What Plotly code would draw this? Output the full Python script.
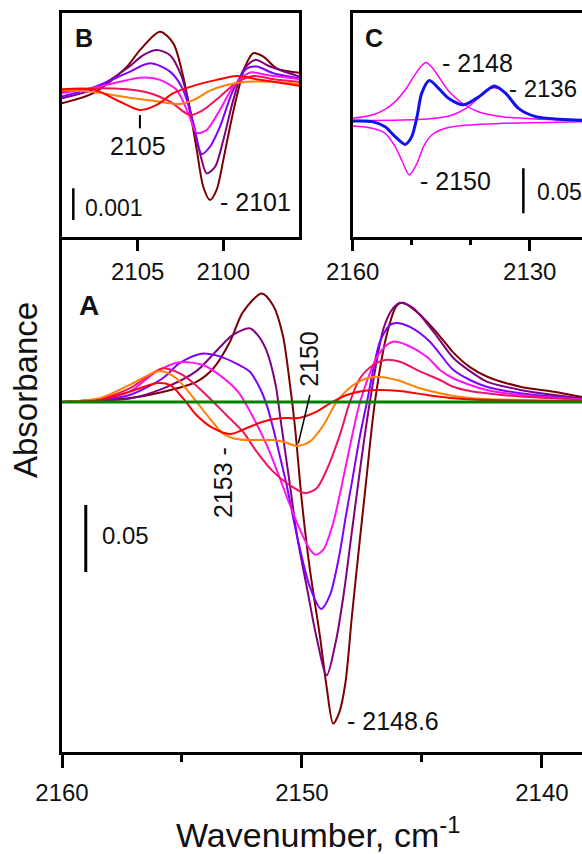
import plotly.graph_objects as go

# ---------------- Panel A data (wavenumber cm-1, absorbance) ----------------
A_RED_WN = [2160, 2158.4, 2157.18, 2156.07, 2155.5, 2154.96, 2154.4, 2153.7, 2153.0, 2152.32, 2151.63, 2150.92,
            2150.08, 2149.39, 2148.83, 2148.14, 2147.45, 2146.9, 2145.92, 2144.8, 2143.7, 2142.3, 2138.33]
A_RED = [0, 0.0015, 0.0077, 0.014, 0.0127, 0.0028, -0.0097, -0.0196, -0.0239, -0.0196, -0.0147, -0.0122,
         -0.0117, -0.0072, -0.001, 0.0052, 0.0082, 0.009, 0.0082, 0.0052, 0.0028, 0.0015, 0.0007]

A_ORANGE_WN = [2160, 2158.4, 2157.18, 2155.93, 2155.24, 2154.4, 2153.85, 2153.3, 2152.74, 2152.04, 2151.2, 2150.7,
               2150.22, 2149.67, 2149.1, 2148.55, 2147.86, 2147.3, 2146.9, 2146.05, 2145.08, 2144.25, 2143.7,
               2142.3, 2140.9, 2138.33]
A_ORANGE = [0, 0.003, 0.0127, 0.0231, 0.0177, 0.0002, -0.0122, -0.0234, -0.0276, -0.0284, -0.0284, -0.030,
            -0.0328, -0.0296, -0.0172, 0.0002, 0.0127, 0.0177, 0.0189, 0.0164, 0.0102, 0.0065, 0.0045,
            0.0022, 0.0015, 0.0007]

A_ROSE_WN = [2160, 2158.4, 2157.18, 2155.8, 2154.96, 2154.13, 2153.15, 2152.46, 2151.89, 2151.2, 2150.6, 2149.88,
             2149.39, 2148.97, 2148.42, 2148.0, 2147.58, 2147.03, 2146.54, 2145.92, 2145.08, 2144.25, 2143.7,
             2143.0, 2142.3, 2140.9, 2139.5, 2138.33]
A_ROSE = [0, 0.0025, 0.0102, 0.0251, 0.020, 0.0077, -0.0097, -0.0222, -0.037, -0.052, -0.061, -0.068,
          -0.0644, -0.0507, -0.0246, 0.0002, 0.0177, 0.0276, 0.0313, 0.030, 0.0228, 0.0164, 0.0114,
          0.0082, 0.0065, 0.004, 0.0028, 0.0015]

A_MAGENTA_WN = [2160, 2158.4, 2157.18, 2156.07, 2155.1, 2154.13, 2153.43, 2152.67, 2152.13, 2151.47, 2150.92,
                2150.5, 2150.08, 2149.67, 2149.42, 2149.1, 2148.7, 2148.35, 2148.0, 2147.58, 2146.9, 2146.47,
                2146.2, 2145.64, 2144.8, 2144.25, 2143.7, 2143.0, 2142.3, 2140.9, 2139.5, 2138.33]
A_MAGENTA = [0, 0.0022, 0.0077, 0.0226, 0.0296, 0.0276, 0.020, 0.0077, -0.0082, -0.032, -0.057,
             -0.077, -0.0955, -0.110, -0.114, -0.110, -0.0905, -0.063, -0.033, 0, 0.0326, 0.0425,
             0.045, 0.0425, 0.0338, 0.0239, 0.0177, 0.0127, 0.009, 0.0052, 0.0032, 0.0019]

A_VIOLET_WN = [2160, 2158.4, 2157.18, 2155.8, 2155.1, 2154.2, 2153.43, 2152.67, 2152.17, 2151.75, 2151.47, 2151.2,
               2150.9, 2150.64, 2150.2, 2149.67, 2149.2, 2148.83, 2148.46, 2148.17, 2147.92, 2147.6, 2147.29,
               2146.75, 2146.33, 2146.05, 2145.5, 2144.67, 2143.7, 2143.0, 2142.3, 2140.9, 2139.5, 2138.33]
A_VIOLET = [0, 0.0015, 0.0052, 0.0177, 0.029, 0.036, 0.034, 0.028, 0.0226, 0.0102, -0.0022, -0.0196,
            -0.042, -0.062, -0.1005, -0.138, -0.1545, -0.144, -0.116, -0.085, -0.060, -0.027, 0,
            0.045, 0.0575, 0.059, 0.056, 0.045, 0.024, 0.0164, 0.0114, 0.0065, 0.004, 0.0022]

A_PURPLE_WN = [2160, 2158.4, 2157.17, 2155.8, 2154.4, 2153.57, 2152.88, 2152.18, 2151.85, 2151.47, 2151.1, 2150.9,
               2150.7, 2150.5, 2150.2, 2149.8, 2149.4, 2148.97, 2148.58, 2148.25, 2147.93, 2147.65, 2147.4,
               2147.17, 2146.6, 2146.2, 2145.9, 2145.36, 2144.5, 2143.7, 2143.0, 2142.3, 2140.9, 2139.5, 2138.33]
A_PURPLE = [0, 0.001, 0.0026, 0.010, 0.023, 0.038, 0.050, 0.055, 0.050, 0.038, 0.013, -0.012,
            -0.037, -0.062, -0.1005, -0.138, -0.175, -0.204, -0.178, -0.142, -0.098, -0.060, -0.027,
            0, 0.055, 0.070, 0.074, 0.070, 0.052, 0.033, 0.023, 0.0152, 0.009, 0.0052, 0.0028]

A_MAROON_WN = [2160, 2157.17, 2155.8, 2154.4, 2153.7, 2153.0, 2152.46, 2151.68, 2151.2, 2150.8, 2150.5, 2150.3,
               2150.0, 2149.67, 2149.25, 2148.97, 2148.7, 2148.45, 2148.19, 2147.92, 2147.63, 2147.33, 2146.96,
               2146.47, 2146.05, 2145.78, 2145.08, 2144.25, 2143.7, 2143.0, 2142.3, 2140.9, 2139.5, 2138.33]
A_MAROON = [0, 0.003, 0.0075, 0.015, 0.025, 0.045, 0.067, 0.081, 0.072, 0.050, 0.013, -0.017,
            -0.075, -0.125, -0.175, -0.213, -0.240, -0.232, -0.2097, -0.160, -0.110, -0.060, 0,
            0.050, 0.072, 0.074, 0.065, 0.049, 0.037, 0.026, 0.019, 0.0114, 0.0077, 0.0037]

A_GREEN_WN = [2160, 2138.33]
A_GREEN = [0, 0]

# ---------------- Panel B data ----------------
B_MAROON_WN = [2109.45, 2107.59, 2105.64, 2104.87, 2103.7, 2102.92, 2102.34, 2101.95, 2101.55, 2101.17, 2100.78,
               2100.39, 2100.0, 2099.61, 2099.22, 2098.73, 2098.25, 2097.66, 2096.88, 2095.55]
B_MAROON = [-0.00042, -0.0001, 0.00073, 0.00126, 0.00184, 0.00147, 0.00042, -0.00063, -0.00189, -0.00305, -0.00347,
            -0.00315, -0.00221, -0.00116, -0.00021, 0.00074, 0.00116, 0.00105, 0.00068, 0.00054]

B_PURPLE_WN = [2109.45, 2107.59, 2105.64, 2104.67, 2103.89, 2103.11, 2102.43, 2101.85, 2101.36, 2100.97, 2100.48,
               2100.0, 2099.42, 2098.83, 2098.15, 2097.27, 2095.55]
B_PURPLE = [-0.00026, 0.00002, 0.00068, 0.0011, 0.00126, 0.0011, 0.00042, -0.00084, -0.002, -0.00263, -0.00242,
            -0.00158, -0.00032, 0.00063, 0.00095, 0.00074, 0.00042]

B_VIOLET_WN = [2109.45, 2107.59, 2105.64, 2104.28, 2103.11, 2102.34, 2101.75, 2101.26, 2100.78, 2100.2, 2099.42,
               2098.63, 2098.05, 2097.08, 2095.55]
B_VIOLET = [-0.00021, 0.00008, 0.00053, 0.00084, 0.00058, 0, -0.00105, -0.00202, -0.00179, -0.00116, 0,
            0.00068, 0.00074, 0.00053, 0.00037]

B_MAGENTA_WN = [2109.45, 2107.59, 2106.03, 2104.87, 2103.7, 2102.72, 2102.04, 2101.55, 2100.97, 2100.2, 2099.42,
                2098.44, 2097.46, 2095.55]
B_MAGENTA = [-0.0001, 0.00007, 0.00026, 0.00039, 0.00032, 0, -0.00074, -0.00135, -0.00126, -0.00063, 0.0001,
             0.00055, 0.00047, 0.00034]

B_ROSE_WN = [2109.45, 2107.59, 2105.64, 2104.28, 2103.11, 2101.95, 2101.17, 2100.2, 2099.22, 2098.25, 2097.08,
             2095.55]
B_ROSE = [-0.00005, 0.00005, 0.00002, -0.0001, -0.00037, -0.00079, -0.00063, -0.00021, 0.00023, 0.00044, 0.00034,
          0.00026]

B_ORANGE_WN = [2109.45, 2107.59, 2105.64, 2104.09, 2102.53, 2101.75, 2100.78, 2099.8, 2098.63, 2097.08, 2095.55]
B_ORANGE = [0, -0.00006, -0.00023, -0.00034, -0.00044, -0.00032, -0.00002, 0.00016, 0.00026, 0.00026, 0.00019]

B_RED_WN = [2109.45, 2107.59, 2106.03, 2104.87, 2103.89, 2102.92, 2101.75, 2100.39, 2099.22, 2097.86, 2095.55]
B_RED = [0.00002, 0.00002, -0.00037, -0.00063, -0.00047, -0.0001, 0.00013, 0.00032, 0.00044, 0.00032, 0.00013]

# ---------------- Panel C data ----------------
C_2148_WN = [2160, 2156.7, 2154.5, 2152.8, 2151.1, 2149.7, 2148.5, 2147.6, 2146.6, 2145.1, 2143.7, 2141.5, 2138.6,
             2134.7, 2129.0, 2121.1]
C_2148 = [0.0030, 0.0067, 0.013, 0.0215, 0.0344, 0.049, 0.060, 0.065, 0.060, 0.046, 0.033, 0.020, 0.010,
          0.0048, 0.0022, 0.0011]

C_2150_WN = [2160, 2156.7, 2154.5, 2152.8, 2151.6, 2150.4, 2149.1, 2148.0, 2146.6, 2144.3, 2140.3, 2134.7, 2121.1]
C_2150 = [-0.0056, -0.0081, -0.0137, -0.0285, -0.045, -0.060, -0.047, -0.0285, -0.0156, -0.0081, -0.0044,
          -0.0026, -0.0007]

C_2136_WN = [2160, 2151.6, 2146.0, 2143.1, 2140.8, 2139.1, 2137.4, 2136.0, 2134.7, 2132.9, 2131.2, 2129.0, 2125.0,
             2121.1]
C_2136 = [0.0005, 0.001, 0.003, 0.0067, 0.014, 0.023, 0.034, 0.037, 0.034, 0.0215, 0.0104, 0.0048, 0.0022, 0.0011]

C_FIT_WN = [2160, 2156.7, 2154.5, 2152.8, 2151.1, 2150.0, 2149.1, 2148.3, 2147.0, 2145.4, 2143.7, 2141.2, 2138.6,
            2136.0, 2134.1, 2131.9, 2129.0, 2125.0, 2121.1]
C_FIT = [0, -0.0007, -0.0063, -0.0174, -0.026, -0.0174, 0.0048, 0.031, 0.045, 0.036, 0.025, 0.018, 0.027,
         0.039, 0.031, 0.014, 0.0048, 0.0019, 0.0007]

# Tick labels
A_TICKS = [2160, 2150, 2140]
A_MINOR = [2155, 2145]
B_TICKS = [2105, 2100]
C_TICKS = [2160, 2130]
C_MINOR = [2150, 2140]

# Scale bars (absorbance)
SCALE_A = 0.05
SCALE_B = 0.001
SCALE_C = 0.05

RED = "#FF0000"
ORANGE = "#FF8000"
ROSE = "#F0145A"
MAGENTA = "#FF14F0"
VIOLET = "#8000FF"
PURPLE = "#800080"
MAROON = "#7B0000"
GREEN = "#008000"
BLUE = "#1010F0"
FONT = "Liberation Sans, Arial, sans-serif"

W, H = 582, 854


def px(xp):
    return xp / W


def py(yp):
    return 1 - yp / H


fig = go.Figure()

a_series = [
    (A_MAROON_WN, A_MAROON, MAROON),
    (A_PURPLE_WN, A_PURPLE, PURPLE),
    (A_VIOLET_WN, A_VIOLET, VIOLET),
    (A_MAGENTA_WN, A_MAGENTA, MAGENTA),
    (A_ROSE_WN, A_ROSE, ROSE),
    (A_ORANGE_WN, A_ORANGE, ORANGE),
    (A_RED_WN, A_RED, RED),
]
for xs, ys, c in a_series:
    fig.add_trace(go.Scatter(x=xs, y=ys, mode="lines", line=dict(color=c, width=2, shape="spline", smoothing=0.8),
                             xaxis="x", yaxis="y", hoverinfo="skip"))
fig.add_trace(go.Scatter(x=A_GREEN_WN, y=A_GREEN, mode="lines", line=dict(color=GREEN, width=3),
                         xaxis="x", yaxis="y", hoverinfo="skip"))

b_series = [
    (B_MAROON_WN, B_MAROON, MAROON),
    (B_PURPLE_WN, B_PURPLE, PURPLE),
    (B_VIOLET_WN, B_VIOLET, VIOLET),
    (B_MAGENTA_WN, B_MAGENTA, MAGENTA),
    (B_ROSE_WN, B_ROSE, ROSE),
    (B_ORANGE_WN, B_ORANGE, ORANGE),
    (B_RED_WN, B_RED, RED),
]
for xs, ys, c in b_series:
    fig.add_trace(go.Scatter(x=xs, y=ys, mode="lines", line=dict(color=c, width=2, shape="spline", smoothing=0.8),
                             xaxis="x2", yaxis="y2", hoverinfo="skip"))

for xs, ys in [(C_2148_WN, C_2148), (C_2150_WN, C_2150), (C_2136_WN, C_2136)]:
    fig.add_trace(go.Scatter(x=xs, y=ys, mode="lines", line=dict(color="#FF00FF", width=1.5, shape="spline",
                                                                 smoothing=0.8),
                             xaxis="x3", yaxis="y3", hoverinfo="skip"))
fig.add_trace(go.Scatter(x=C_FIT_WN, y=C_FIT, mode="lines", line=dict(color=BLUE, width=3, shape="spline",
                                                                      smoothing=0.8),
                         xaxis="x3", yaxis="y3", hoverinfo="skip"))

axis_common = dict(showgrid=False, zeroline=False, showline=True, linecolor="black", linewidth=2.5,
                   automargin=False,
                   tickcolor="black", tickwidth=2.5, tickfont=dict(family=FONT, size=24, color="#111"))

Y_AB_BOT, Y_AB_TOP = py(752), py(237)
Y_BC_BOT, Y_BC_TOP = py(237), py(13)

fig.update_layout(
    width=W, height=H, margin=dict(l=0, r=0, t=0, b=0, autoexpand=False),
    paper_bgcolor="white", plot_bgcolor="white", showlegend=False,
    xaxis=dict(domain=[px(62), 1], range=[2160, 2138.33], anchor="y", ticks="outside", ticklen=13,
               tickvals=A_TICKS, ticktext=[str(v) for v in A_TICKS], ticklabelstandoff=4,
               minor=dict(tickvals=A_MINOR, ticks="outside", ticklen=7, tickwidth=2.5, tickcolor="black"),
               **axis_common),
    yaxis=dict(domain=[Y_AB_BOT, Y_AB_TOP], range=[-0.2612, 0.1231], anchor="x", ticks="",
               showticklabels=False, **axis_common),
    xaxis2=dict(domain=[px(62), px(299)], range=[2109.42, 2095.58], anchor="y2", ticks="outside", ticklen=11,
                tickvals=B_TICKS, ticktext=[str(v) for v in B_TICKS], mirror=True, **axis_common),
    yaxis2=dict(domain=[Y_BC_BOT, Y_BC_TOP], range=[-0.004637, 0.002429], anchor="x2", ticks="",
                showticklabels=False, mirror=True, **axis_common),
    xaxis3=dict(domain=[px(352.7), 1], range=[2160, 2121.14], anchor="y3", ticks="outside", ticklen=11,
                tickvals=C_TICKS, ticktext=[str(v) for v in C_TICKS], mirror=True,
                minor=dict(tickvals=C_MINOR, ticks="outside", ticklen=5, tickwidth=2.5, tickcolor="black"),
                **axis_common),
    yaxis3=dict(domain=[Y_BC_BOT, Y_BC_TOP], range=[-0.1289, 0.12], anchor="x3", ticks="",
                showticklabels=False, **axis_common),
)

shapes = [
    # scale bars
    dict(type="line", xref="x", yref="y", x0=2159.01, x1=2159.01, y0=-0.0769, y1=-0.0769 - SCALE_A,
         line=dict(color="black", width=3)),
    dict(type="line", xref="x2", yref="y2", x0=2108.76, x1=2108.76, y0=-0.0031, y1=-0.0031 - SCALE_B,
         line=dict(color="black", width=2.5)),
    dict(type="line", xref="x3", yref="y3", x0=2131.08, x1=2131.08, y0=-0.0526, y1=-0.0526 - SCALE_C,
         line=dict(color="black", width=2.5)),
    # leader for 2150 label
    dict(type="line", xref="x", yref="y", x0=2149.67, x1=2150.15, y0=0.0052, y1=-0.0309,
         line=dict(color="black", width=1.5)),
    # 2105 marker
    dict(type="line", xref="x2", yref="y2", x0=2104.87, x1=2104.87, y0=-0.00079, y1=-0.00121,
         line=dict(color="black", width=2)),
]
fig.update_layout(shapes=shapes)


def ann(text, x, y, xref, yref, size=25, xanchor="center", bold=False, angle=0):
    if bold:
        text = "<b>" + text + "</b>"
    return dict(text=text, x=x, y=y, xref=xref, yref=yref, showarrow=False, xanchor=xanchor, yanchor="middle",
                textangle=angle, font=dict(family=FONT, size=size, color="#111"))


annotations = [
    ann("A", 2158.88, 0.0718, "x", "y", size=28, bold=True),
    ann("0.05", 2158.42, -0.0993, "x", "y", size=24, xanchor="left"),
    ann("- 2148.6", 2148.21, -0.238, "x", "y", xanchor="left"),
    ann("2150", 2149.71, 0.0321, "x", "y", angle=-90),
    ann("2153 -", 2153.31, -0.0601, "x", "y", angle=-90),
    ann("B", 2108.13, 0.00163, "x2", "y2", size=25, bold=True),
    ann("2105", 2104.96, -0.00176, "x2", "y2"),
    ann("- 2101", 2100.29, -0.00352, "x2", "y2", xanchor="left"),
    ann("0.001", 2108.18, -0.00372, "x2", "y2", size=23, xanchor="left"),
    ann("C", 2156.36, 0.0919, "x3", "y3", size=25, bold=True),
    ann("- 2148", 2145.2, 0.065, "x3", "y3", xanchor="left"),
    ann("- 2136", 2133.9, 0.0356, "x3", "y3", size=24, xanchor="left"),
    ann("- 2150", 2148.88, -0.0667, "x3", "y3", xanchor="left"),
    ann("0.05", 2129.1, -0.0786, "x3", "y3", size=23, xanchor="left"),
    ann("Wavenumber, cm<sup>-1</sup>", px(318), py(832), "paper", "paper", size=34),
    ann("Absorbance", px(25), py(390), "paper", "paper", size=33, angle=-90),
]
fig.update_layout(annotations=annotations)

fig.write_html("out.html")
